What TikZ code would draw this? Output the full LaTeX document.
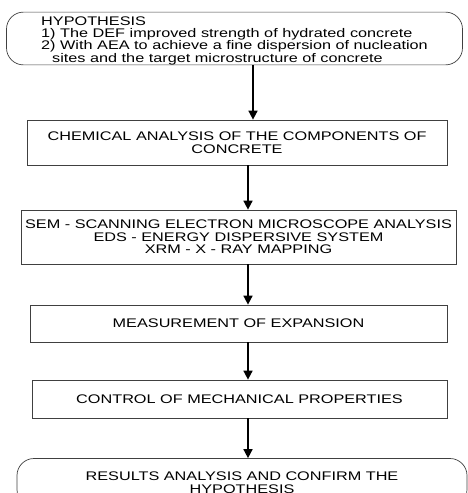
\documentclass[tikz,border=0pt]{standalone}
\usepackage{fontspec}
\setmainfont{Liberation Sans}[FakeStretch=1.3]
\usetikzlibrary{arrows.meta}
\begin{document}
\begin{tikzpicture}[x=1pt,y=-1pt,
    box/.style={draw=black!75,line width=0.7pt,inner sep=0pt,align=center,
        font=\fontsize{12.5}{12.4}\selectfont},
    roundbox/.style={box,rounded corners=17pt},
    arr/.style={line width=1.6pt,-{Triangle[length=9pt,width=9pt]}}]
    \useasboundingbox (0,0) rectangle (468,493);

    \node[roundbox,minimum width=456pt,minimum height=52pt,align=left] (hyp) at (234.5,38.5)
        {\rule{0pt}{13pt}HYPOTHESIS\\1) The DEF improved strength of hydrated concrete\\2) With AEA to achieve a fine dispersion of nucleation\\\hspace{11pt}sites and the target microstructure of concrete};
    \node[box,minimum width=420pt,minimum height=45pt] (chem) at (237,142.5)
        {CHEMICAL ANALYSIS OF THE COMPONENTS OF\\CONCRETE};
    \node[box,minimum width=435pt,minimum height=54pt] (sem) at (238.5,237)
        {SEM - SCANNING ELECTRON MICROSCOPE ANALYSIS\\EDS - ENERGY DISPERSIVE SYSTEM\\XRM - X - RAY MAPPING};
    \node[box,minimum width=417pt,minimum height=37pt] (meas) at (238.5,323.5)
        {MEASUREMENT OF EXPANSION};
    \node[box,minimum width=415pt,minimum height=38pt] (ctrl) at (239.5,399)
        {CONTROL OF MECHANICAL PROPERTIES};
    \node[roundbox,minimum width=450pt,minimum height=48pt] (res) at (242,482.5)
        {RESULTS ANALYSIS AND CONFIRM THE\\HYPOTHESIS};

    \coordinate (top) at (253,0);
    \coordinate (ax) at (248,0);
    \draw[arr] (hyp.south -| top) -- (chem.north -| top);
    \draw[arr] (chem.south -| ax) -- (sem.north -| ax);
    \draw[arr] (sem.south -| ax) -- (meas.north -| ax);
    \draw[arr] (meas.south -| ax) -- (ctrl.north -| ax);
    \draw[arr] (ctrl.south -| ax) -- (res.north -| ax);
\end{tikzpicture}
\end{document}
